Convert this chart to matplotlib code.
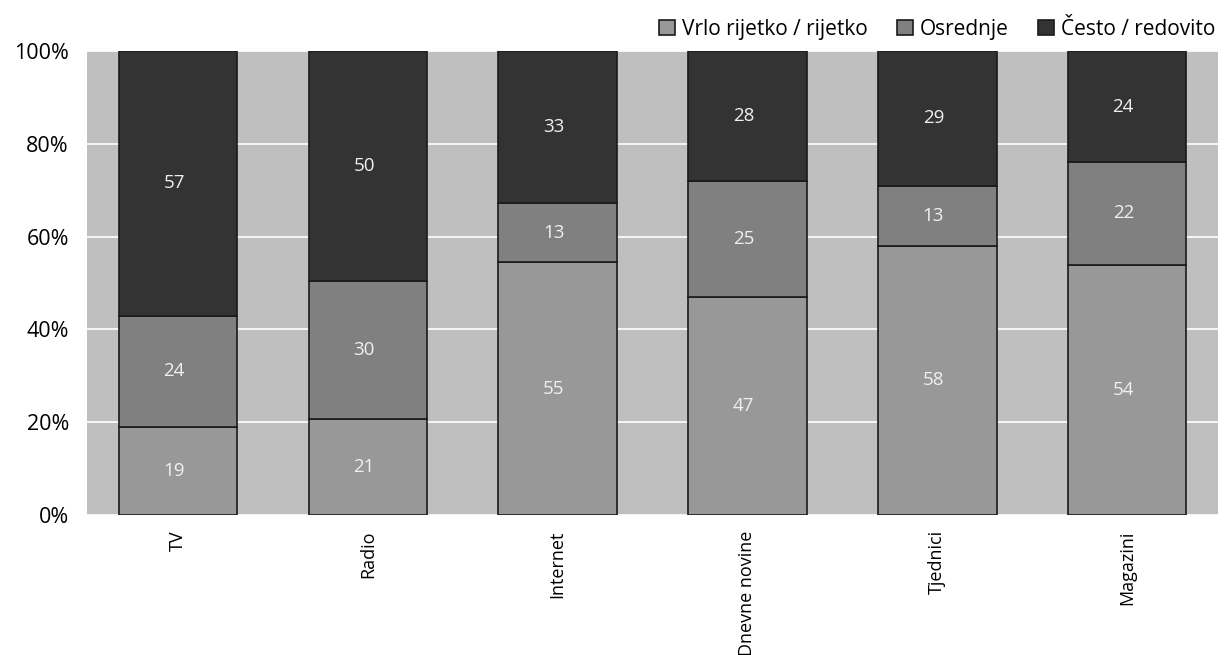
import numpy as np
import matplotlib.pyplot as plt

plt.rcParams['font.family'] = ['Open Sans', 'DejaVu Sans']

categories = ['TV', 'Radio', 'Internet', 'Dnevne novine', 'Tjednici', 'Magazini']
series_names = ['Vrlo rijetko / rijetko', 'Osrednje', 'Često / redovito']
rijetko = [19, 21, 55, 47, 58, 54]
osrednje = [24, 30, 13, 25, 13, 22]
cesto = [57, 50, 33, 28, 29, 24]
colors = ['#979897', '#808080', '#323332']

data = np.array([rijetko, osrednje, cesto], dtype=float)
shares = data / data.sum(axis=0) * 100

fig = plt.figure(figsize=(12.28, 6.55), dpi=100)
ax = fig.add_axes([0.0708, 0.2137, 0.9212, 0.7083])
ax.set_facecolor('#bfbfbf')

x = np.arange(len(categories))
bottom = np.zeros(len(categories))
for i in range(3):
    ax.bar(x, shares[i], 0.625, bottom=bottom, color=colors[i],
           edgecolor='#1a1a1a', linewidth=1.2, label=series_names[i], zorder=3)
    for j in range(len(categories)):
        ax.text(x[j] - 0.02, bottom[j] + shares[i][j] / 2, '%d' % data[i][j],
                ha='center', va='center', color='#f0f0f0', fontsize=13.5, zorder=4)
    bottom += shares[i]

ax.set_xlim(-0.48, len(categories) - 0.52)
ax.set_ylim(0, 100)
ax.set_yticks([0, 20, 40, 60, 80, 100])
ax.set_yticklabels(['%d%%' % v for v in [0, 20, 40, 60, 80, 100]])
ax.set_xticks(x)
ax.set_xticklabels(categories, rotation=90)
ax.tick_params(length=0)
ax.tick_params(axis='x', labelsize=13, pad=11)
ax.tick_params(axis='y', labelsize=15.5, pad=13)
ax.yaxis.grid(True, color='white', linewidth=1.2, zorder=0)
ax.set_axisbelow(True)
for s in ax.spines.values():
    s.set_visible(False)

fig.legend(loc='upper right', bbox_to_anchor=(1.005, 1.0), ncol=3, frameon=False,
           fontsize=15, handlelength=0.75, handleheight=0.75, handletextpad=0.35,
           columnspacing=1.4)

fig.savefig('out.png', dpi=100)
